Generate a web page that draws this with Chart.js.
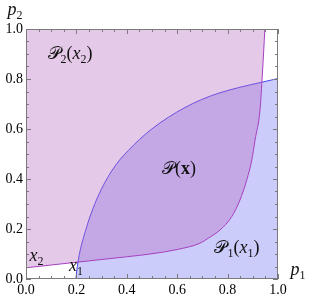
<!DOCTYPE html>
<html>
<head>
<script src="https://cdn.jsdelivr.net/npm/chart.js"></script>
<style>
  body { margin: 0; background: #fff; }
  #wrap { width: 312px; height: 303px; }
</style>
</head>
<body>
<div id="wrap"><canvas id="c"></canvas></div>
<script>
// boundary of P2(x2): p2 as a function of p1
const p1Upper = [0, 0.1, 0.2, 0.3, 0.4, 0.5, 0.6, 0.69, 0.723, 0.77, 0.816, 0.849, 0.876, 0.896, 0.909, 0.929, 0.938, 0.948];
const p2Upper = [0.045, 0.056, 0.067, 0.078, 0.089, 0.101, 0.118, 0.143, 0.163, 0.196, 0.249, 0.316, 0.396, 0.476, 0.556, 0.68, 0.82, 1.0];
// boundary of P1(x1)
const p1Lower = [0.198, 0.2, 0.2075, 0.241, 0.274, 0.307, 0.34, 0.373, 0.406, 0.45, 0.499, 0.565, 0.631, 0.697, 0.77, 0.849, 0.935, 1.0];
const p2Lower = [0, 0.02, 0.076, 0.209, 0.303, 0.375, 0.432, 0.478, 0.514, 0.558, 0.600, 0.647, 0.686, 0.718, 0.745, 0.767, 0.787, 0.802];
const tickVals = [0, 0.2, 0.4, 0.6, 0.8, 1.0];

const SERIF = '"Liberation Serif", "DejaVu Serif", serif';

function pts(xs, ys) { return xs.map((x, i) => ({ x: x, y: ys[i] })); }

// draws a label made of pieces, some of them subscripts
function rich(ctx, cx, cy, parts) {
  let w = 0;
  parts.forEach(p => { ctx.font = p.f; w += ctx.measureText(p.t).width; });
  let x = cx - w / 2;
  ctx.textBaseline = 'alphabetic';
  ctx.textAlign = 'left';
  parts.forEach(p => {
    ctx.font = p.f;
    ctx.fillText(p.t, x, cy + (p.dy || 0));
    x += ctx.measureText(p.t).width;
  });
}

const decor = {
  id: 'decor',
  afterDraw(chart) {
    const ctx = chart.ctx, a = chart.chartArea;
    const xs = chart.scales.x, ys = chart.scales.y;
    ctx.save();
    ctx.strokeStyle = '#7a7a7a';
    ctx.lineWidth = 1;
    ctx.strokeRect(a.left + 0.5, a.top + 0.5, a.right - a.left - 1, a.bottom - a.top - 1);
    ctx.beginPath();
    for (let i = 0; i <= 20; i++) {
      const v = i * 0.05;
      const len = i % 4 === 0 ? 5 : 3;
      const px = Math.round(xs.getPixelForValue(v)) + 0.5;
      const py = Math.round(ys.getPixelForValue(v)) + 0.5;
      ctx.moveTo(px, a.bottom); ctx.lineTo(px, a.bottom - len);
      ctx.moveTo(px, a.top); ctx.lineTo(px, a.top + len);
      ctx.moveTo(a.left, py); ctx.lineTo(a.left + len, py);
      ctx.moveTo(a.right, py); ctx.lineTo(a.right - len, py);
    }
    ctx.stroke();

    ctx.fillStyle = '#111';
    const rm = '18px ' + SERIF, it = 'italic 18px ' + SERIF, sub = '12px ' + SERIF, sc = '18px "DejaVu Serif", serif';
    const X = v => xs.getPixelForValue(v), Y = v => ys.getPixelForValue(v);
    rich(ctx, X(0.175), Y(0.904) + 6, [{ t: '𝒫', f: sc }, { t: '2', f: sub, dy: 4 }, { t: '(', f: rm }, { t: 'x', f: it }, { t: '2', f: sub, dy: 4 }, { t: ')', f: rm }]);
    rich(ctx, X(0.607), Y(0.444) + 6, [{ t: '𝒫', f: sc }, { t: '(', f: rm }, { t: 'x', f: 'bold 18px ' + SERIF }, { t: ')', f: rm }]);
    rich(ctx, X(0.837), Y(0.128) + 6, [{ t: '𝒫', f: sc }, { t: '1', f: sub, dy: 4 }, { t: '(', f: rm }, { t: 'x', f: it }, { t: '1', f: sub, dy: 4 }, { t: ')', f: rm }]);
    rich(ctx, X(0.042), Y(0.088) + 4, [{ t: 'x', f: it }, { t: '2', f: sub, dy: 4 }]);
    rich(ctx, X(0.198), Y(0.048) + 4, [{ t: 'x', f: it }, { t: '1', f: sub, dy: 4 }]);
    rich(ctx, 15, 15, [{ t: 'p', f: it }, { t: '2', f: sub, dy: 4 }]);
    rich(ctx, 298, 275, [{ t: 'p', f: it }, { t: '1', f: sub, dy: 4 }]);
    ctx.restore();
  }
};

const tickFont = { family: SERIF, size: 14 };

new Chart(document.getElementById('c'), {
  type: 'scatter',
  data: {
    datasets: [
      {
        data: pts(p1Upper, p2Upper),
        showLine: true,
        borderColor: '#a53fc0',
        borderWidth: 1,
        pointRadius: 0,
        cubicInterpolationMode: 'monotone',
        fill: 'end',
        backgroundColor: 'rgba(180,100,190,0.35)'
      },
      {
        data: pts(p1Lower, p2Lower),
        showLine: true,
        borderColor: '#4646f0',
        borderWidth: 1,
        pointRadius: 0,
        cubicInterpolationMode: 'monotone',
        fill: 'start',
        backgroundColor: 'rgba(100,100,240,0.33)'
      }
    ]
  },
  options: {
    responsive: true,
    maintainAspectRatio: false,
    animation: false,
    layout: { padding: { top: 29, right: 34, left: 0, bottom: 0 } },
    plugins: { legend: { display: false }, tooltip: { enabled: false } },
    scales: {
      x: {
        type: 'linear', min: 0, max: 1,
        grid: { display: false, drawTicks: false },
        border: { display: false },
        afterBuildTicks(s) { s.ticks = tickVals.map(v => ({ value: v })); },
        afterFit(s) { s.height = 24; },
        ticks: { font: tickFont, color: '#000', padding: 3, maxRotation: 0, callback: v => v.toFixed(1) }
      },
      y: {
        min: 0, max: 1,
        grid: { display: false, drawTicks: false },
        border: { display: false },
        afterBuildTicks(s) { s.ticks = tickVals.map(v => ({ value: v })); },
        afterFit(s) { s.width = 26; },
        ticks: { font: tickFont, color: '#000', padding: 3, callback: v => v.toFixed(1) }
      }
    }
  },
  plugins: [decor]
});
</script>
</body>
</html>
